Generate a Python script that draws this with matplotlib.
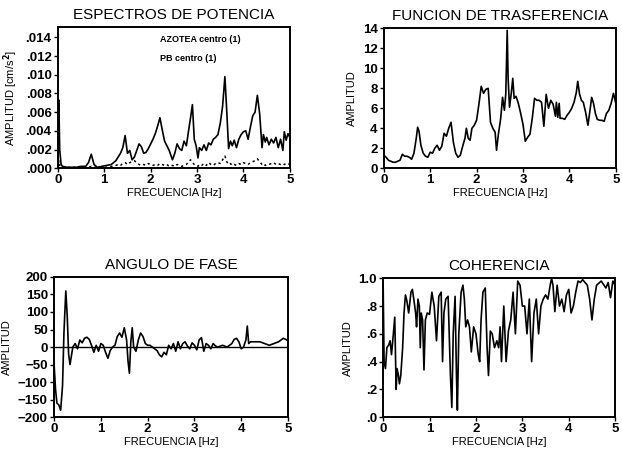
import numpy as np
import matplotlib
matplotlib.use("Agg")
from matplotlib import pyplot as plt

# power spectra (cm/s^2)
f_esp = [0.0, 0.02, 0.04, 0.07, 0.1, 0.2, 0.3, 0.4, 0.5, 0.6,
         0.66, 0.72, 0.78, 0.85, 0.95, 1.05, 1.15, 1.25, 1.3, 1.35,
         1.4, 1.45, 1.5, 1.55, 1.6, 1.65, 1.7, 1.75, 1.8, 1.85,
         1.9, 1.95, 2.0, 2.05, 2.1, 2.15, 2.2, 2.25, 2.3, 2.35,
         2.4, 2.47, 2.52, 2.57, 2.62, 2.67, 2.72, 2.77, 2.82, 2.86,
         2.9, 2.94, 2.98, 3.02, 3.05, 3.1, 3.15, 3.2, 3.25, 3.3,
         3.35, 3.4, 3.45, 3.5, 3.55, 3.6, 3.64, 3.68, 3.72, 3.76,
         3.8, 3.85, 3.9, 3.95, 4.0, 4.05, 4.1, 4.15, 4.2, 4.25,
         4.3, 4.35, 4.4, 4.43, 4.47, 4.5, 4.55, 4.6, 4.65, 4.7,
         4.75, 4.8, 4.85, 4.88, 4.92, 4.96, 5.0]
azotea = [0.0, 0.0073, 0.002, 0.0004, 0.0002, 0.0001, 0.0001, 0.0001, 0.0002, 0.0002,
          0.0006, 0.0015, 0.0004, 0.0001, 0.0002, 0.0003, 0.0004, 0.0008, 0.0012, 0.0016,
          0.0022, 0.0035, 0.0016, 0.0019, 0.0009, 0.0012, 0.0019, 0.0026, 0.0023, 0.0016,
          0.0017, 0.0021, 0.0026, 0.0031, 0.0037, 0.0045, 0.0054, 0.0041, 0.0029, 0.0024,
          0.0019, 0.0009, 0.0016, 0.0026, 0.0021, 0.0019, 0.0029, 0.0024, 0.0041, 0.0054,
          0.0068, 0.0031, 0.0024, 0.0011, 0.0022, 0.0019, 0.0025, 0.0019, 0.0027, 0.0025,
          0.0031, 0.0033, 0.0036, 0.0048, 0.0066, 0.0098, 0.0061, 0.0021, 0.0029, 0.0024,
          0.0030, 0.0022, 0.0031, 0.0036, 0.0039, 0.0040, 0.0031, 0.0044, 0.0056, 0.0060,
          0.0078, 0.0058, 0.0022, 0.0036, 0.0028, 0.0033, 0.0025, 0.0031, 0.0027, 0.0033,
          0.0022, 0.0031, 0.0019, 0.0039, 0.0030, 0.0037, 0.0033]
pb = [0.0, 0.0008, 0.0003, 0.0001, 0.0001, 0.0001, 0.0001, 0.0001, 0.0001, 0.0001,
      0.0001, 0.0002, 0.0001, 0.0001, 0.0001, 0.0001, 0.0002, 0.0003, 0.0004, 0.0003,
      0.0005, 0.0006, 0.0004, 0.0006, 0.0007, 0.0008, 0.0006, 0.0004, 0.0003, 0.0004,
      0.0003, 0.0005, 0.0004, 0.0003, 0.0004, 0.0003, 0.0005, 0.0004, 0.0003, 0.0004,
      0.0002, 0.0003, 0.0002, 0.0004, 0.0003, 0.0002, 0.0003, 0.0004, 0.0007, 0.0009,
      0.0006, 0.0004, 0.0003, 0.0002, 0.0004, 0.0003, 0.0005, 0.0003, 0.0006, 0.0004,
      0.0003, 0.0005, 0.0006, 0.0005, 0.0009, 0.0013, 0.0007, 0.0004, 0.0005, 0.0003,
      0.0004, 0.0003, 0.0005, 0.0004, 0.0006, 0.0005, 0.0004, 0.0006, 0.0007, 0.0008,
      0.0010, 0.0007, 0.0004, 0.0005, 0.0003, 0.0004, 0.0004, 0.0005, 0.0006, 0.0004,
      0.0005, 0.0004, 0.0005, 0.0004, 0.0005, 0.0004, 0.0005]

# transfer function
f_tr = [0.0, 0.05, 0.1, 0.15, 0.2, 0.25, 0.3, 0.35, 0.4, 0.45,
        0.5, 0.55, 0.6, 0.65, 0.7, 0.73, 0.76, 0.8, 0.85, 0.9,
        0.95, 1.0, 1.05, 1.1, 1.15, 1.2, 1.25, 1.3, 1.35, 1.4,
        1.45, 1.5, 1.55, 1.6, 1.65, 1.7, 1.75, 1.78, 1.82, 1.86,
        1.9, 1.95, 2.0, 2.05, 2.1, 2.15, 2.2, 2.25, 2.3, 2.35,
        2.4, 2.43, 2.47, 2.52, 2.56, 2.6, 2.63, 2.66, 2.68, 2.71,
        2.75, 2.78, 2.81, 2.85, 2.9, 2.95, 3.0, 3.05, 3.1, 3.15,
        3.2, 3.25, 3.3, 3.35, 3.4, 3.45, 3.5, 3.55, 3.6, 3.65,
        3.7, 3.72, 3.75, 3.78, 3.8, 3.85, 3.9, 3.95, 4.0, 4.05,
        4.1, 4.15, 4.18, 4.22, 4.26, 4.3, 4.35, 4.4, 4.45, 4.48,
        4.52, 4.56, 4.6, 4.65, 4.7, 4.75, 4.8, 4.85, 4.9, 4.95,
        5.0]
transf = [1.3, 1.1, 0.8, 0.7, 0.6, 0.6, 0.7, 0.8, 1.4, 1.2,
          1.2, 1.1, 0.9, 1.5, 3.0, 4.1, 3.7, 2.3, 1.5, 1.2,
          1.1, 1.6, 1.5, 2.0, 2.3, 1.8, 2.2, 3.5, 3.2, 4.0,
          4.6, 2.6, 1.5, 1.1, 1.3, 2.2, 3.0, 4.0, 3.0, 2.8,
          4.0, 4.3, 4.8, 6.4, 8.2, 7.5, 7.9, 8.0, 4.6, 4.0,
          3.6, 1.8, 3.4, 5.0, 7.1, 5.8, 7.5, 13.8, 9.0, 6.1,
          7.6, 9.0, 7.0, 7.2, 6.5, 5.5, 4.4, 2.7, 3.1, 3.4,
          5.0, 7.0, 6.8, 6.8, 6.6, 4.2, 7.4, 6.0, 6.8, 6.4,
          5.2, 6.6, 5.1, 6.5, 5.0, 5.0, 4.9, 5.3, 5.6, 6.0,
          6.6, 7.6, 8.7, 7.4, 6.8, 6.6, 5.6, 4.3, 6.0, 7.1,
          6.5, 5.5, 4.9, 4.8, 4.8, 4.7, 5.5, 5.8, 6.5, 7.5,
          6.5]

# phase angle
f_fase = [0.0, 0.03, 0.06, 0.1, 0.14, 0.18, 0.21, 0.25, 0.28, 0.31,
          0.34, 0.37, 0.4, 0.45, 0.5, 0.55, 0.6, 0.65, 0.7, 0.75,
          0.8, 0.85, 0.9, 0.95, 1.0, 1.05, 1.1, 1.15, 1.2, 1.25,
          1.3, 1.35, 1.4, 1.45, 1.5, 1.55, 1.58, 1.61, 1.64, 1.67,
          1.7, 1.75, 1.8, 1.85, 1.9, 1.95, 2.0, 2.05, 2.1, 2.15,
          2.2, 2.25, 2.3, 2.35, 2.4, 2.45, 2.5, 2.55, 2.6, 2.65,
          2.7, 2.75, 2.8, 2.85, 2.9, 2.95, 3.0, 3.05, 3.1, 3.15,
          3.2, 3.25, 3.3, 3.35, 3.4, 3.45, 3.5, 3.6, 3.7, 3.8,
          3.85, 3.9, 3.95, 4.0, 4.05, 4.1, 4.13, 4.16, 4.2, 4.3,
          4.4, 4.5, 4.6, 4.7, 4.8, 4.9, 4.95, 5.0]
fase = [-50, -120, -160, -165, -180, -110, 40, 160, 90, -20,
        -50, -25, 0, 10, -5, 20, 12, 25, 28, 22,
        5, -15, 5, -12, 10, 5, -15, -32, -10, 0,
        5, 30, 40, 28, 55, 20, -40, -75, 15, 55,
        0, -12, 20, 40, 30, 10, 5, 5, 0, -5,
        -10, -22, -28, -15, -22, 5, -5, 10, -12, 15,
        -5, 10, 15, 3, -5, 12, 5, -8, 20, 27,
        -12, 10, 5, -5, 10, 3, 0, 5, 0, 10,
        22, 25, 15, -5, 0, 20, 60, 10, 15, 15,
        15, 10, 5, 10, 15, 25, 22, 18]

# coherence
f_coh = [0.0, 0.02, 0.05, 0.08, 0.12, 0.15, 0.18, 0.22, 0.25, 0.28,
         0.3, 0.33, 0.35, 0.38, 0.42, 0.45, 0.48, 0.51, 0.55, 0.6,
         0.63, 0.66, 0.7, 0.72, 0.75, 0.78, 0.8, 0.82, 0.85, 0.88,
         0.91, 0.95, 1.0, 1.05, 1.1, 1.15, 1.2, 1.25, 1.28, 1.31,
         1.35, 1.4, 1.45, 1.48, 1.51, 1.55, 1.58, 1.6, 1.63, 1.68,
         1.72, 1.75, 1.78, 1.82, 1.86, 1.9, 1.95, 2.0, 2.05, 2.08,
         2.11, 2.15, 2.2, 2.24, 2.27, 2.31, 2.35, 2.4, 2.45, 2.49,
         2.52, 2.55, 2.6, 2.65, 2.7, 2.75, 2.8, 2.85, 2.9, 2.95,
         3.0, 3.05, 3.1, 3.15, 3.2, 3.25, 3.3, 3.35, 3.4, 3.45,
         3.5, 3.55, 3.6, 3.63, 3.66, 3.7, 3.75, 3.8, 3.85, 3.9,
         3.95, 4.0, 4.05, 4.1, 4.15, 4.2, 4.25, 4.3, 4.4, 4.45,
         4.5, 4.55, 4.6, 4.7, 4.8, 4.85, 4.9, 4.95, 5.0]
coh = [0.95, 0.4, 0.35, 0.5, 0.52, 0.55, 0.45, 0.6, 0.72, 0.2,
       0.35, 0.3, 0.24, 0.3, 0.5, 0.75, 0.88, 0.84, 0.75, 0.9,
       0.92, 0.85, 0.75, 0.65, 0.85, 0.8, 0.5, 0.75, 0.7, 0.34,
       0.7, 0.75, 0.74, 0.9, 0.8, 0.55, 0.87, 0.9, 0.4, 0.75,
       0.85, 0.87, 0.3, 0.07, 0.6, 0.87, 0.3, 0.05, 0.6, 0.9,
       0.95, 0.85, 0.65, 0.7, 0.65, 0.47, 0.65, 0.6, 0.45, 0.4,
       0.7, 0.9, 0.93, 0.5, 0.3, 0.62, 0.6, 0.5, 0.55, 0.5,
       0.65, 0.4, 0.8, 0.4, 0.62, 0.7, 0.9, 0.6, 0.98, 0.95,
       0.8, 0.8, 0.6, 0.85, 0.4, 0.75, 0.85, 0.6, 0.8, 0.85,
       0.88, 0.85, 0.95, 1.0, 0.95, 0.76, 0.95, 0.8, 0.85, 0.76,
       0.88, 0.92, 0.75, 0.8, 0.9, 0.98, 0.97, 0.99, 0.95, 0.85,
       0.7, 0.85, 0.95, 0.98, 0.93, 0.97, 0.86, 0.98, 0.95]

plt.rcParams['font.family'] = ['Liberation Sans', 'DejaVu Sans']
plt.rcParams['font.weight'] = 'bold'
plt.rcParams['axes.linewidth'] = 1.4
plt.rcParams['xtick.major.width'] = 1.0
plt.rcParams['ytick.major.width'] = 1.0
plt.rcParams['xtick.major.size'] = 3
plt.rcParams['ytick.major.size'] = 3

fig = plt.figure(figsize=(6.22, 4.51), dpi=100)

ax1 = fig.add_axes([0.093, 0.627, 0.373, 0.313])
ax2 = fig.add_axes([0.617, 0.627, 0.373, 0.310])
ax3 = fig.add_axes([0.087, 0.075, 0.376, 0.311])
ax4 = fig.add_axes([0.616, 0.075, 0.373, 0.308])

lw = 1.2
ax1.plot(f_esp, azotea, color='black', lw=lw)
ax1.plot(f_esp, pb, color='black', lw=1.1, ls=(0, (1.5, 2)))
ax1.set_ylim(0, 0.0151)
ax1.set_yticks(np.arange(0, 0.0141, 0.002))
ax1.set_yticklabels(['.000', '.002', '.004', '.006', '.008', '.010', '.012', '.014'])
ax1.set_ylabel('AMPLITUD [cm/s$^\\mathbf{2}$]', fontsize=8)
ax1.set_title('ESPECTROS DE POTENCIA', fontsize=11, fontweight='normal')
ax1.text(2.2, 0.0135, 'AZOTEA centro (1)', fontsize=6.5)
ax1.text(2.2, 0.0115, 'PB centro (1)', fontsize=6.5)

ax2.plot(f_tr, transf, color='black', lw=lw)
ax2.set_ylim(0, 14)
ax2.set_yticks(np.arange(0, 15, 2))
ax2.set_ylabel('AMPLITUD', fontsize=8)
ax2.set_title('FUNCION DE TRASFERENCIA', fontsize=11, fontweight='normal')

ax3.plot(f_fase, fase, color='black', lw=lw)
ax3.axhline(0, color='black', lw=1.0)
ax3.set_ylim(-200, 200)
ax3.set_yticks(np.arange(-200, 201, 50))
ax3.set_yticklabels([str(v).replace('-', '\u2212') for v in range(-200, 201, 50)])
ax3.set_ylabel('AMPLITUD', fontsize=8)
ax3.set_title('ANGULO DE FASE', fontsize=11, fontweight='normal')

ax4.plot(f_coh, coh, color='black', lw=lw)
ax4.set_ylim(0, 1)
ax4.set_yticks(np.arange(0, 1.01, 0.2))
ax4.set_yticklabels(['.0', '.2', '.4', '.6', '.8', '1.0'])
ax4.set_ylabel('AMPLITUD', fontsize=8)
ax4.set_title('COHERENCIA', fontsize=11, fontweight='normal')

for ax in (ax1, ax2, ax3, ax4):
    ax.set_xlim(0, 5)
    ax.set_xticks(range(6))
    ax.set_xlabel('FRECUENCIA [Hz]', fontsize=8, labelpad=1)
    ax.tick_params(labelsize=9.5, pad=1.5)

fig.savefig('out.png', dpi=100)
